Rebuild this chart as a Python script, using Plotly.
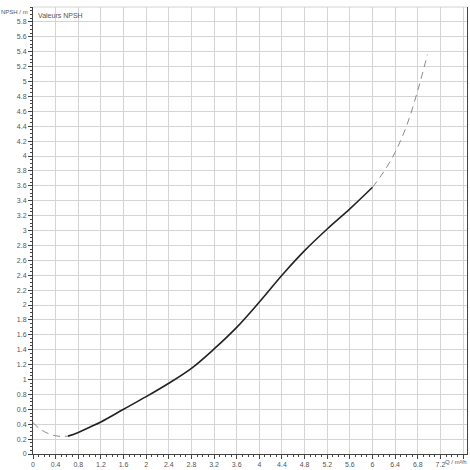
import plotly.graph_objects as go

# Data
q_start = [0.0, 0.1, 0.2, 0.3, 0.4, 0.5, 0.62]
npsh_start = [0.42, 0.35, 0.30, 0.265, 0.245, 0.235, 0.24]

q_main = [0.62, 0.8, 1.0, 1.2, 1.6, 2.0, 2.4, 2.8, 3.2, 3.6, 4.0, 4.4, 4.8, 5.2, 5.6, 6.0]
npsh_main = [0.24, 0.29, 0.36, 0.43, 0.60, 0.77, 0.95, 1.15, 1.41, 1.70, 2.04, 2.40, 2.73, 3.02, 3.29, 3.58]

q_end = [6.0, 6.2, 6.4, 6.6, 6.8, 6.97]
npsh_end = [3.58, 3.79, 4.05, 4.40, 4.88, 5.36]

x_ticks = [round(0.4 * i, 1) for i in range(20)]  # 0 .. 7.6
x_labels = [f"{v:g}" for v in x_ticks[:-1]] + [""]
y_ticks = [round(0.2 * i, 1) for i in range(30)]  # 0 .. 5.8
y_labels = [f"{v:g}" for v in y_ticks]

fig = go.Figure()
fig.add_trace(go.Scatter(x=q_start, y=npsh_start, mode="lines",
                         line=dict(color="#8a8a8a", width=1, dash="7px,5px", shape="spline"),
                         hoverinfo="skip"))
fig.add_trace(go.Scatter(x=q_main, y=npsh_main, mode="lines",
                         line=dict(color="#222222", width=1.6, shape="spline"),
                         hoverinfo="skip"))
fig.add_trace(go.Scatter(x=q_end, y=npsh_end, mode="lines",
                         line=dict(color="#8a8a8a", width=1, dash="7px,5px", shape="spline"),
                         hoverinfo="skip"))

font = dict(family="Liberation Sans, Arial", size=7, color="#555555")
small = dict(family="Liberation Sans, Arial", size=6, color="#555555")

fig.update_layout(
    width=470, height=470,
    margin=dict(l=33, r=3, t=7, b=16),
    paper_bgcolor="white", plot_bgcolor="white",
    showlegend=False,
    font=font,
    xaxis=dict(range=[0, 7.67], tickvals=x_ticks, ticktext=x_labels,
               showgrid=True, gridcolor="#d4d4d4", gridwidth=1,
               showline=True, linecolor="#444444", linewidth=1,
               ticks="outside", ticklen=4, tickcolor="#444444",
               minor=dict(dtick=0.1, tick0=0, ticks="outside", ticklen=2,
                          tickcolor="#444444", showgrid=False),
               zeroline=False, tickfont=font, fixedrange=True, automargin=False),
    yaxis=dict(range=[0, 6.0], tickvals=y_ticks, ticktext=y_labels,
               showgrid=True, gridcolor="#d4d4d4", gridwidth=1,
               showline=True, linecolor="#444444", linewidth=1, mirror=True,
               ticks="outside", ticklen=4, tickcolor="#444444",
               minor=dict(dtick=0.05, tick0=0, ticks="outside", ticklen=2,
                          tickcolor="#444444", showgrid=False),
               zeroline=False, tickfont=font, fixedrange=True, automargin=False),
    shapes=[dict(type="line", xref="paper", yref="paper", x0=0, x1=1, y0=1, y1=1,
                 line=dict(color="#d4d4d4", width=1))],
    annotations=[
        dict(text="NPSH / m", xref="paper", yref="paper", x=-0.007, y=0.988,
             xanchor="right", yanchor="middle", showarrow=False, font=small),
        dict(text="Valeurs NPSH", xref="paper", yref="paper", x=0.008, y=0.993,
             xanchor="left", yanchor="top", showarrow=False, font=font),
        dict(text="Q / m³/h", xref="paper", yref="paper", x=1.004, y=-0.006,
             xanchor="right", yanchor="top", showarrow=False, font=small),
    ],
)

fig.write_html("out.html", config={"displayModeBar": False},
               post_script="document.body.style.margin='0';document.body.style.overflow='hidden';")
